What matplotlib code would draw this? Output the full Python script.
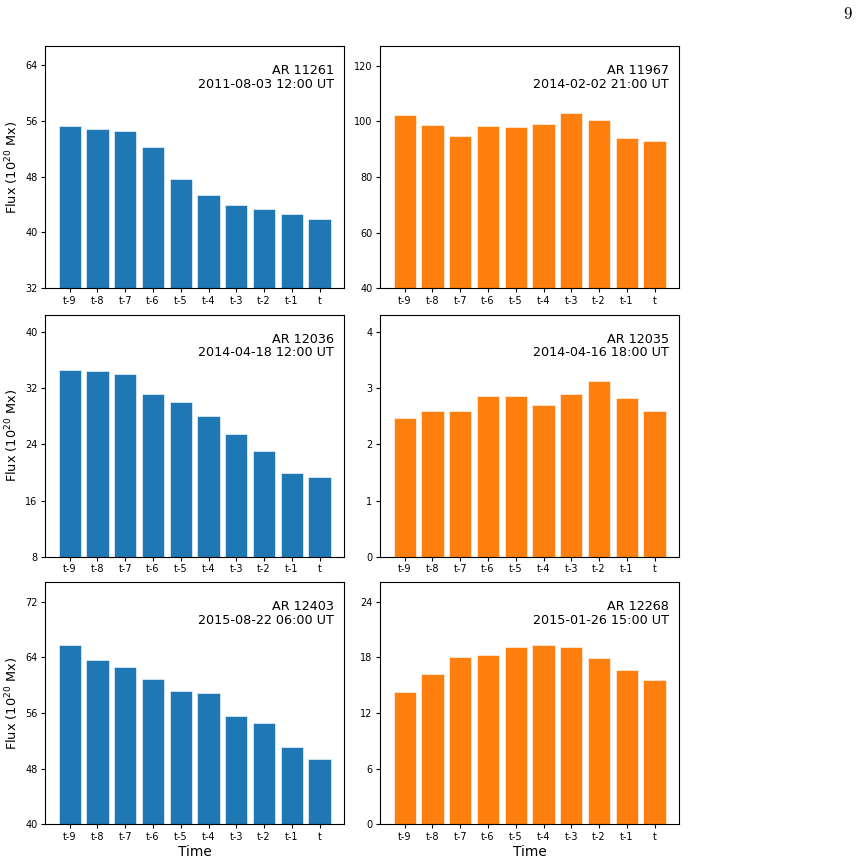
import matplotlib
matplotlib.use("Agg")
import matplotlib.pyplot as plt

plt.rcParams["mathtext.fontset"] = "dejavusans"

labels = ["t-9", "t-8", "t-7", "t-6", "t-5", "t-4", "t-3", "t-2", "t-1", "t"]

ar_11261 = [55.3, 54.8, 54.6, 52.3, 47.6, 45.3, 43.95, 43.3, 42.6, 41.95]
ar_11967 = [102.4, 98.6, 94.85, 98.5, 97.9, 98.9, 102.9, 100.6, 94.1, 93.0]
ar_12036 = [34.55, 34.45, 33.98, 31.26, 30.1, 28.1, 25.53, 23.14, 19.9, 19.42]
ar_12035 = [2.478, 2.59, 2.60, 2.854, 2.866, 2.71, 2.89, 3.128, 2.818, 2.60]
ar_12403 = [65.82, 63.57, 62.66, 60.93, 59.16, 58.87, 55.57, 54.61, 51.11, 49.44]
ar_12268 = [14.23, 16.24, 18.04, 18.22, 19.15, 19.30, 19.08, 17.97, 16.67, 15.56]

titles = ["AR 11261\n2011-08-03 12:00 UT", "AR 11967\n2014-02-02 21:00 UT",
          "AR 12036\n2014-04-18 12:00 UT", "AR 12035\n2014-04-16 18:00 UT",
          "AR 12403\n2015-08-22 06:00 UT", "AR 12268\n2015-01-26 15:00 UT"]
series = [ar_11261, ar_11967, ar_12036, ar_12035, ar_12403, ar_12268]
ylims = [(32, 66.67), (40, 127), (8, 42.5), (0, 4.31), (40, 74.8), (0, 26.08)]
yticks = [[32, 40, 48, 56, 64], [40, 60, 80, 100, 120], [8, 16, 24, 32, 40],
          [0, 1, 2, 3, 4], [40, 48, 56, 64, 72], [0, 6, 12, 18, 24]]

W, H = 859, 861
fig = plt.figure(figsize=(W / 100, H / 100), dpi=100)

col_left = [45 / W, 380 / W]
width = 299.3 / W
row_bottom = [1 - 288.3 / H, 1 - 556.7 / H, 1 - 824.3 / H]
height = 242.0 / H

for i, (vals, title) in enumerate(zip(series, titles)):
    r, c = divmod(i, 2)
    ax = fig.add_axes([col_left[c], row_bottom[r], width, height])
    color = "#1f77b4" if c == 0 else "#ff7f0e"
    ax.bar(labels, vals, width=0.8, color=color, edgecolor="white", linewidth=0.4)
    ax.set_ylim(*ylims[i])
    ax.set_yticks(yticks[i])
    ax.tick_params(labelsize=7, length=3, pad=2.5)
    ax.text(0.965, 0.925, title, transform=ax.transAxes, ha="right", va="top",
            fontsize=9.2, multialignment="right", linespacing=1.05)
    if c == 0:
        ax.set_ylabel("Flux ($10^{20}$ Mx)", fontsize=9.3)
        ax.yaxis.set_label_coords(-0.08, 0.5)
    if r == 2:
        ax.set_xlabel("Time", fontsize=9.8, labelpad=2)

fig.text(848 / W, 1 - 14 / H, r"$\mathrm{9}$", ha="center", va="center", fontsize=12,
         math_fontfamily="cm")

fig.savefig("out.png", dpi=100)
